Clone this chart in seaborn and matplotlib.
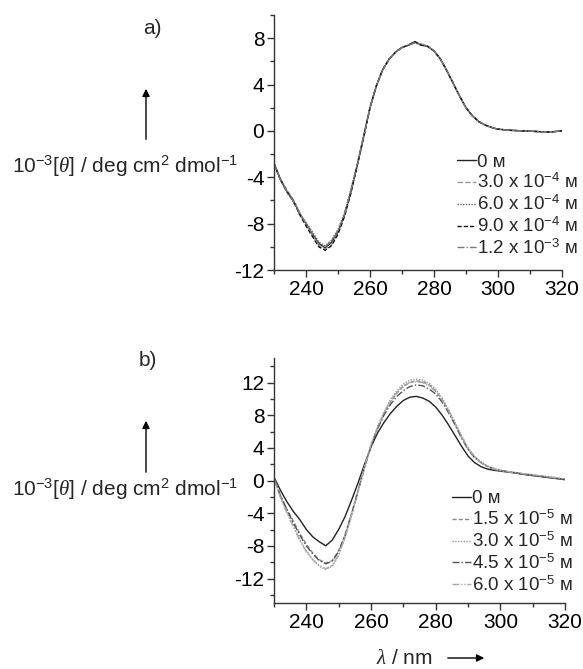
import numpy as np
import pandas as pd
import matplotlib
matplotlib.use("Agg")
import matplotlib.pyplot as plt
import seaborn as sns
from matplotlib.ticker import MultipleLocator

# ---------------- data ----------------
wavelength = [230, 232, 234, 236, 238, 240, 242, 244, 246, 248, 250, 252, 254, 256, 258,
              260, 262, 264, 266, 268, 270, 272, 274, 276, 278, 280, 282, 284, 286, 288,
              290, 292, 294, 296, 298, 300, 304, 308, 312, 316, 320]

# panel a) series
a_labels = ["0 ᴍ", "3.0 x 10$^{-4}$ ᴍ", "6.0 x 10$^{-4}$ ᴍ", "9.0 x 10$^{-4}$ ᴍ", "1.2 x 10$^{-3}$ ᴍ"]
a_0 = [-2.8, -4.2, -5.2, -6.0, -7.1, -8.0, -8.9, -9.7, -10.1, -9.6, -8.7, -7.3, -5.3, -3.0, -0.5,
       2.0, 3.9, 5.3, 6.2, 6.8, 7.2, 7.4, 7.7, 7.4, 7.3, 6.9, 6.2, 5.2, 4.1, 3.0,
       2.0, 1.3, 0.8, 0.5, 0.3, 0.15, 0.05, 0.0, -0.05, -0.1, 0.0]
a_1 = [-2.8, -4.1, -5.1, -5.9, -7.0, -8.1, -9.0, -9.9, -10.2, -9.8, -8.8, -7.2, -5.2, -2.9, -0.5,
       2.0, 3.9, 5.3, 6.2, 6.8, 7.2, 7.4, 7.6, 7.5, 7.3, 6.9, 6.2, 5.2, 4.1, 3.0,
       2.0, 1.3, 0.8, 0.5, 0.3, 0.15, 0.05, 0.0, -0.05, -0.1, 0.0]
a_2 = [-2.8, -4.2, -5.3, -6.1, -7.2, -7.9, -8.7, -9.6, -9.9, -9.4, -8.5, -7.1, -5.1, -2.9, -0.4,
       2.0, 3.9, 5.3, 6.2, 6.8, 7.2, 7.4, 7.6, 7.4, 7.3, 6.9, 6.2, 5.2, 4.1, 3.0,
       2.0, 1.3, 0.8, 0.5, 0.3, 0.15, 0.05, 0.0, -0.05, -0.1, 0.0]
a_3 = [-2.8, -4.2, -5.2, -6.0, -7.2, -8.2, -9.1, -10.0, -10.3, -9.9, -8.9, -7.4, -5.4, -3.0, -0.6,
       2.0, 3.9, 5.3, 6.2, 6.8, 7.2, 7.4, 7.7, 7.4, 7.3, 6.9, 6.2, 5.2, 4.1, 3.0,
       2.0, 1.3, 0.8, 0.5, 0.3, 0.15, 0.05, 0.0, -0.05, -0.1, 0.0]
a_4 = [-2.8, -4.2, -5.2, -6.0, -7.1, -8.0, -8.9, -9.8, -10.0, -9.5, -8.6, -7.2, -5.2, -2.9, -0.5,
       2.0, 3.9, 5.3, 6.2, 6.8, 7.2, 7.4, 7.6, 7.5, 7.3, 6.9, 6.2, 5.2, 4.1, 3.0,
       2.0, 1.3, 0.8, 0.5, 0.3, 0.15, 0.05, 0.0, -0.05, -0.1, 0.0]

# panel b) series
b_labels = ["0 ᴍ", "1.5 x 10$^{-5}$ ᴍ", "3.0 x 10$^{-5}$ ᴍ", "4.5 x 10$^{-5}$ ᴍ", "6.0 x 10$^{-5}$ ᴍ"]
b_0 = [0.4, -1.2, -2.6, -3.8, -4.8, -6.0, -6.9, -7.5, -8.0, -7.3, -6.0, -4.4, -2.4, -0.3, 2.0,
       4.1, 5.8, 7.1, 8.2, 9.1, 9.8, 10.2, 10.3, 10.1, 9.7, 9.0, 8.0, 6.8, 5.5, 4.2,
       3.0, 2.2, 1.7, 1.4, 1.25, 1.15, 0.95, 0.7, 0.5, 0.3, 0.1]
b_1 = [0.3, -1.8, -3.5, -5.0, -6.5, -7.8, -8.9, -9.7, -10.1, -9.8, -8.6, -6.6, -4.0, -1.2, 1.7,
       4.3, 6.4, 8.2, 9.6, 10.7, 11.5, 12.0, 12.2, 12.1, 11.7, 11.0, 9.9, 8.5, 6.9, 5.3,
       3.9, 2.9, 2.2, 1.7, 1.4, 1.2, 1.0, 0.75, 0.55, 0.35, 0.15]
b_2 = [0.2, -2.0, -3.8, -5.5, -7.2, -8.6, -9.7, -10.5, -10.9, -10.5, -9.2, -7.0, -4.3, -1.4, 1.6,
       4.3, 6.5, 8.4, 9.9, 11.0, 11.8, 12.3, 12.4, 12.3, 11.9, 11.2, 10.1, 8.7, 7.1, 5.5,
       4.0, 3.0, 2.3, 1.8, 1.5, 1.3, 1.0, 0.8, 0.6, 0.4, 0.2]
b_3 = [0.3, -1.9, -3.6, -5.2, -6.7, -8.0, -9.0, -9.8, -10.2, -9.9, -8.7, -6.7, -4.1, -1.3, 1.6,
       4.2, 6.3, 8.0, 9.3, 10.3, 11.0, 11.5, 11.7, 11.6, 11.2, 10.6, 9.6, 8.3, 6.8, 5.2,
       3.8, 2.8, 2.2, 1.7, 1.4, 1.2, 1.0, 0.75, 0.55, 0.35, 0.15]
b_4 = [0.2, -2.1, -4.0, -5.7, -7.4, -8.7, -9.7, -10.4, -10.8, -10.4, -9.1, -6.9, -4.2, -1.3, 1.7,
       4.4, 6.5, 8.3, 9.7, 10.8, 11.6, 12.0, 12.1, 12.0, 11.6, 10.9, 9.9, 8.5, 7.0, 5.4,
       3.9, 2.9, 2.2, 1.7, 1.4, 1.2, 1.0, 0.8, 0.6, 0.4, 0.2]

y_ticks_a = [-12, -8, -4, 0, 4, 8]
y_ticks_b = [-12, -8, -4, 0, 4, 8, 12]
x_ticks = [240, 260, 280, 300, 320]


def long_frame(labels, series):
    rows = []
    for lab, vals in zip(labels, series):
        for w, v in zip(wavelength, vals):
            rows.append((w, v, lab))
    return pd.DataFrame(rows, columns=["wl", "val", "conc"])


df_a = long_frame(a_labels, [a_0, a_1, a_2, a_3, a_4])
df_b = long_frame(b_labels, [b_0, b_1, b_2, b_3, b_4])

# ---------------- style ----------------
sns.set_style("ticks")
plt.rcParams["font.family"] = ["Liberation Sans", "DejaVu Sans"]
plt.rcParams["mathtext.fontset"] = "custom"
plt.rcParams["mathtext.rm"] = "Liberation Sans"
plt.rcParams["mathtext.it"] = "Liberation Serif:italic"
plt.rcParams["mathtext.bf"] = "Liberation Sans:bold"
plt.rcParams["axes.unicode_minus"] = False

W, H = 583, 669
fig = plt.figure(figsize=(W / 100, H / 100), dpi=100)


def px_axes(l, t, r, b):
    return fig.add_axes([l / W, 1 - b / H, (r - l) / W, (b - t) / H])


ax_a = px_axes(274, 15, 562, 270)
ax_b = px_axes(274, 358, 565, 603)

pal_a = dict(zip(a_labels, ["#222222", "#9a9a9a", "#666666", "#111111", "#777777"]))
dash_a = dict(zip(a_labels, ["", (4, 1.5), (1, 1), (3, 1.5), (5, 1.5, 1, 1.5)]))
pal_b = dict(zip(b_labels, ["#222222", "#8a8a8a", "#9a9a9a", "#555555", "#aaaaaa"]))
dash_b = dict(zip(b_labels, ["", (3, 1.5), (1, 1), (5, 1.5, 1, 1.5), (5, 1.2, 1, 1.2, 1, 1.2)]))

sns.lineplot(data=df_a, x="wl", y="val", hue="conc", style="conc", hue_order=a_labels,
             style_order=a_labels, palette=pal_a, dashes=dash_a, lw=1.0, legend=False, ax=ax_a)
sns.lineplot(data=df_b, x="wl", y="val", hue="conc", style="conc", hue_order=b_labels,
             style_order=b_labels, palette=pal_b, dashes=dash_b, lw=1.0, legend=False, ax=ax_b)

for ax, ylim, yt in [(ax_a, (-12, 10), y_ticks_a), (ax_b, (-15, 15), y_ticks_b)]:
    ax.set_xlim(230, 320)
    ax.set_ylim(*ylim)
    ax.set_xticks(x_ticks)
    ax.set_yticks(yt)
    ax.xaxis.set_minor_locator(MultipleLocator(10))
    ax.yaxis.set_minor_locator(MultipleLocator(2))
    ax.set_xlabel("")
    ax.set_ylabel("")
    ax.tick_params(which="major", direction="out", length=5, width=1, colors="#333333",
                   labelsize=15, labelcolor="black", pad=2)
    ax.tick_params(which="minor", direction="out", length=3, width=1, colors="#333333")
    for s in ["top", "right"]:
        ax.spines[s].set_visible(False)
    for s in ["left", "bottom"]:
        ax.spines[s].set_color("#333333")
        ax.spines[s].set_linewidth(1)

# legends
for ax, labels, anchor in [(ax_a, a_labels, (0.635, 0.457)), (ax_b, b_labels, (0.612, 0.46))]:
    handles = ax.get_lines()[:5]
    ax.legend(handles, labels, loc="upper left", bbox_to_anchor=anchor, frameon=False,
              fontsize=13.5, handlelength=1.0, handletextpad=0.07, labelspacing=0.13,
              borderaxespad=0, borderpad=0)

# annotations
ylab = r"10$^{-3}$[$\theta$] / deg cm$^{2}$ dmol$^{-1}$"


def ftext(x, y, s, **kw):
    fig.text(x / W, 1 - y / H, s, **kw)


def farrow(x0, y0, x1, y1):
    fig.add_artist(matplotlib.patches.FancyArrowPatch(
        (x0 / W, 1 - y0 / H), (x1 / W, 1 - y1 / H), transform=fig.transFigure,
        arrowstyle="-|>", mutation_scale=11, color="black", lw=1.0))


ftext(152, 28, "a)", ha="center", va="center", fontsize=15)
ftext(148, 360, "b)", ha="center", va="center", fontsize=15)
farrow(146, 142, 146, 86)
farrow(146, 475, 146, 418)
ftext(125, 166, ylab, ha="center", va="center", fontsize=15)
ftext(125, 489, ylab, ha="center", va="center", fontsize=15)
ftext(404, 658, r"$\it{\lambda}$ / nm", ha="center", va="center", fontsize=15)
farrow(445, 658, 487, 658)

fig.savefig("out.png", dpi=100)
